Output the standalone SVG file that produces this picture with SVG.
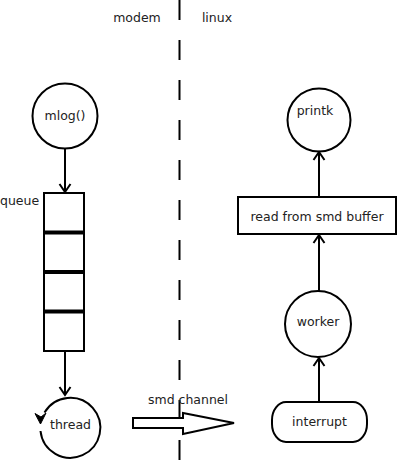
<svg xmlns="http://www.w3.org/2000/svg" width="400" height="466" viewBox="0 0 400 466">
<defs>
<style>
.t{font-family:"DejaVu Sans","Liberation Sans",sans-serif;font-size:12.5px;fill:#222}
.m{text-anchor:middle}
.s{fill:#fff;stroke:#000;stroke-width:2}
.c{fill:none;stroke:#000;stroke-width:2}
.div{stroke:#000;stroke-width:4}
</style>
<marker id="v" viewBox="-10 -10 20 20" markerWidth="20" markerHeight="20" refX="0" refY="0" orient="auto" markerUnits="userSpaceOnUse">
<path d="M-8,-5.5 L0,0 L-8,5.5" fill="none" stroke="#000" stroke-width="2"/>
</marker>
</defs>
<rect width="400" height="466" fill="#fff"/>
<line x1="179.5" y1="0" x2="179.5" y2="466" stroke="#000" stroke-width="2" stroke-dasharray="20 20"/>
<text class="t m" x="137" y="22">modem</text>
<text class="t m" x="217" y="22">linux</text>
<g id="mlog"><circle class="s" cx="65" cy="116" r="32.5"/><text class="t m" x="65" y="120">mlog()</text></g>
<g id="queue">
<rect class="s" x="44" y="193" width="40" height="158"/>
<line class="div" x1="44" y1="232.5" x2="84" y2="232.5"/>
<line class="div" x1="44" y1="272" x2="84" y2="272"/>
<line class="div" x1="44" y1="311.5" x2="84" y2="311.5"/>
<text class="t" x="0" y="205">queue</text>
</g>
<g id="thread">
<path class="c" d="M44.5,412.5 A30,30 0 1 1 40.5,431"/>
<polygon points="40.5,424 35,413.5 41,417 46,413" fill="#000" stroke="#000" stroke-width="1"/>
<text class="t m" x="70.5" y="429">thread</text>
</g>
<g id="smd-channel">
<polygon class="s" points="133,418 183,418 183,413 234,423 183,434 183,428 133,428"/>
<text class="t m" x="188" y="404">smd channel</text>
</g>
<g id="printk"><circle class="s" cx="319" cy="120" r="31.5"/><text class="t m" x="315" y="115">printk</text></g>
<g id="read"><rect class="s" x="238" y="197" width="158" height="37"/><text class="t m" x="317" y="221">read from smd buffer</text></g>
<g id="worker"><circle class="s" cx="318" cy="324" r="33"/><text class="t m" x="318" y="326">worker</text></g>
<g id="interrupt"><rect class="s" x="272" y="402" width="95" height="40" rx="14" ry="18"/><text class="t m" x="319.5" y="426">interrupt</text></g>
<g id="connectors">
<line class="c" x1="65" y1="149" x2="65" y2="192" marker-end="url(#v)"/>
<line class="c" x1="65" y1="351" x2="65" y2="395" marker-end="url(#v)"/>
<line class="c" x1="319" y1="402" x2="319" y2="358" marker-end="url(#v)"/>
<line class="c" x1="319" y1="291" x2="319" y2="235" marker-end="url(#v)"/>
<line class="c" x1="319" y1="197" x2="319" y2="152" marker-end="url(#v)"/>
</g>
</svg>
